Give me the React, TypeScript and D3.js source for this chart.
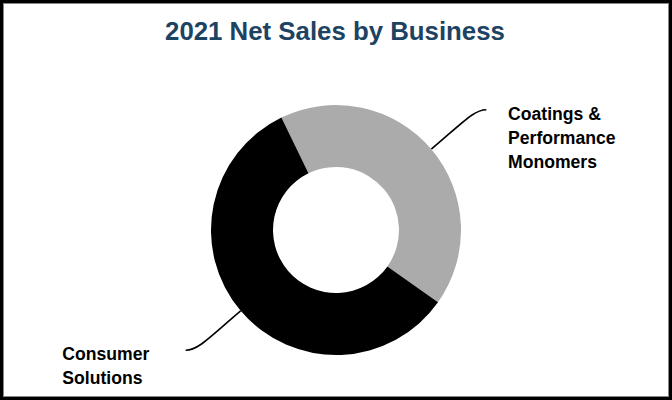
import React from "react";
import * as d3 from "d3";

const categories: string[] = ["Coatings & Performance Monomers", "Consumer Solutions"];
const values: number[] = [42, 58];
const labelLines: string[][] = [["Coatings &", "Performance", "Monomers"], ["Consumer", "Solutions"]];
const colors: string[] = ["#ababab", "#000000"];

const W = 672;
const H = 400;
const cx = 336;
const cy = 230;
const outerR = 125;
const innerR = 63;
const startDeg = -25.9;

export default function App() {
  const pie = d3
    .pie<number>()
    .sort(null)
    .startAngle((startDeg * Math.PI) / 180)
    .endAngle((startDeg * Math.PI) / 180 + 2 * Math.PI);
  const arcs = pie(values);
  const arc = d3.arc<d3.PieArcDatum<number>>().innerRadius(innerR).outerRadius(outerR);

  const leaders = arcs.map((a, i) => {
    const mid = (a.startAngle + a.endAngle) / 2;
    const dx = Math.sin(mid);
    const dy = -Math.cos(mid);
    const p0 = [dx * outerR, dy * outerR];
    const side = dx >= 0 ? 1 : -1;
    const p1 = [p0[0] + dx * 44, p0[1] + dy * 44];
    const endY = p0[1] + dy * 61;
    const endX = p0[0] + side * 55;
    const p2 = [endX - side * 12, endY];
    const p3 = [endX, endY];
    const path = d3.path();
    path.moveTo(p0[0], p0[1]);
    path.bezierCurveTo(p1[0], p1[1], p2[0], p2[1], p3[0], p3[1]);
    return { path: path.toString(), end: p3, side, i };
  });

  return (
    <svg
      width={W}
      height={H}
      style={{ position: "absolute", left: 0, top: 0, display: "block", background: "#fff" }}
      fontFamily="'Liberation Sans', Arial, sans-serif"
    >
      <rect x={0} y={0} width={W} height={H} fill="#fff" />
      <rect x={1.5} y={1.5} width={W - 3} height={H - 3} fill="none" stroke="#000" strokeWidth={3} />
      <rect x={3.5} y={3.5} width={W - 7} height={H - 7} fill="none" stroke="#888" strokeWidth={1} />
      <text x={335} y={40} textAnchor="middle" fontSize={25.8} fontWeight="bold" fill="#1d4363">
        2021 Net Sales by Business
      </text>
      <g transform={`translate(${cx},${cy})`}>
        {leaders.map((l) => (
          <path key={"l" + l.i} d={l.path} fill="none" stroke="#000" strokeWidth={1.6} />
        ))}
        {arcs.map((a, i) => (
          <path key={categories[i]} d={arc(a) || ""} fill={colors[i]} />
        ))}
        {leaders.map((l) => {
          const tx = l.side > 0 ? l.end[0] + 21.7 : l.end[0] - 123.4;
          return (
            <text key={"t" + l.i} x={tx} y={l.end[1] + 10} fontSize={17.6} fontWeight="bold" fill="#000">
              {labelLines[l.i].map((s, k) => (
                <tspan key={k} x={tx} dy={k === 0 ? 0 : 24}>
                  {s}
                </tspan>
              ))}
            </text>
          );
        })}
      </g>
    </svg>
  );
}
